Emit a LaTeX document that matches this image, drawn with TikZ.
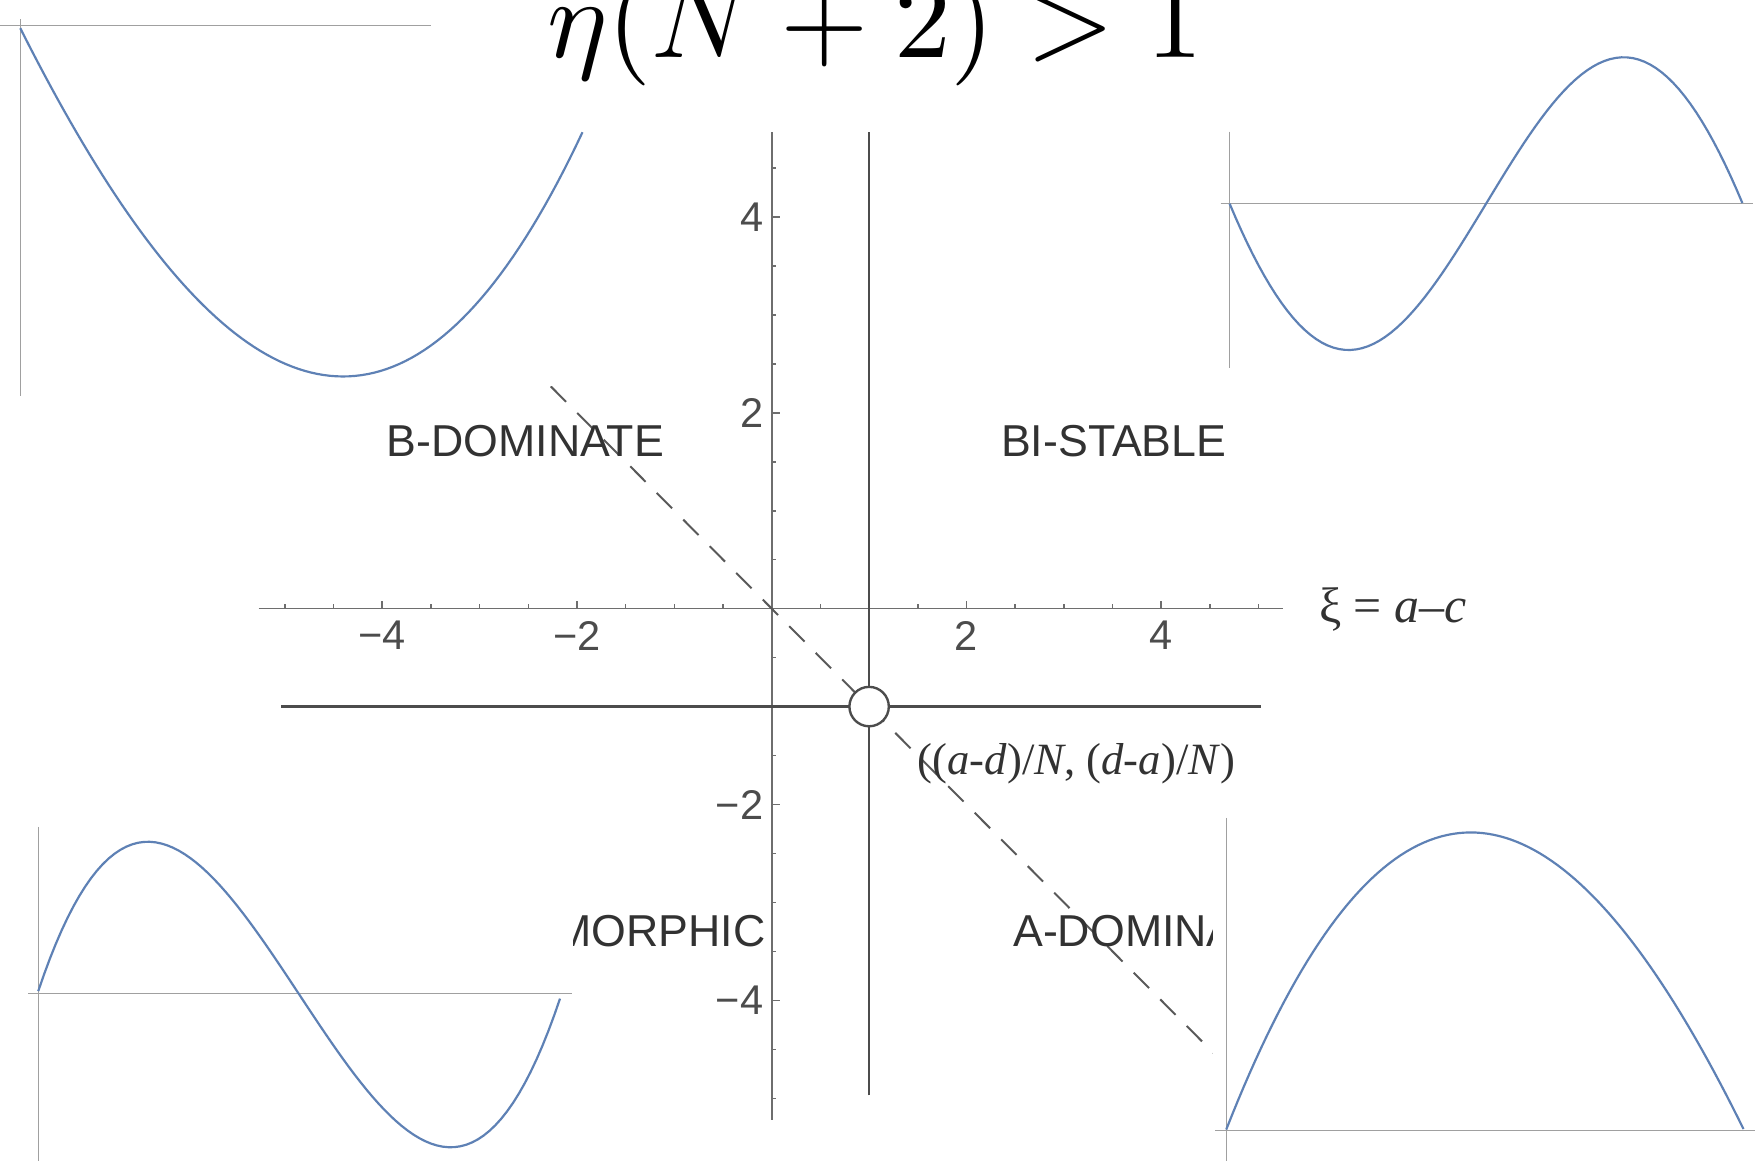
\documentclass[tikz,border=0pt]{standalone}
\usepackage{fontspec}
\newfontfamily\labelfont{Liberation Sans}
\newfontfamily\coordfont{Liberation Serif}
\definecolor{plotblue}{RGB}{94,129,181}
\definecolor{axisgray}{RGB}{110,110,110}
\definecolor{insetgray}{RGB}{160,160,160}
\definecolor{textgray}{RGB}{50,50,50}
\begin{document}
\begin{tikzpicture}[x=0.01cm,y=-0.01cm,
  axisline/.style={draw=axisgray,line width=.4pt},
  boundary/.style={draw=black!70,line width=.6pt},
  diagline/.style={draw=black!65,line width=.5pt,dash pattern=on 5.5pt off 4pt},
  insetaxis/.style={draw=insetgray,line width=.3pt},
  payoff/.style={draw=plotblue,line width=.55pt},
  region label/.style={font=\labelfont\fontsize{11.3}{13}\selectfont,text=textgray,inner sep=0pt},
  tick label/.style={font=\labelfont\fontsize{10.5}{12}\selectfont,text=black!70,inner sep=0pt},
  fixed point/.style={circle,draw=black!70,fill=white,line width=.6pt,minimum size=0.35cm,inner sep=0pt}]
  \useasboundingbox (0,0) rectangle (1568,1032);
  \clip (0,0) rectangle (1568,1032);
  \begin{scope}[shift={(686,541)},x=0.865cm,y=0.87cm]
    \draw[axisline] (-5.27,0) -- (5.25,0);
    \draw[axisline] (0,-5.22) -- (0,4.87);
    \foreach \t in {-5,-4.5,...,5} \draw[axisline] (\t,0) -- ++(0,0.045);
    \foreach \t in {-5,-4.5,...,4.5} \draw[axisline] (0,\t) -- ++(0.045,0);
    \foreach \t/\s [count=\i] in {-4/−4,-2/−2,2/2,4/4} {
      \draw[axisline] (\t,0) -- ++(0,0.08);
      \draw[axisline] (0,\t) -- ++(0.08,0);
      \node[tick label] (xlab\i) at (\t,-0.275) {\s};
      \node[tick label,anchor=east] (ylab\i) at (-0.08,\t) {\s};
    }
    \coordinate (vtop) at (1,4.87);
    \coordinate (vbot) at (1,-4.97);
    \coordinate (hleft) at (-5.04,-1);
    \coordinate (hright) at (5.02,-1);
    \coordinate (dstart) at (-2.27,2.27);
    \coordinate (dend) at (4.55,-4.55);
    \draw[boundary] (vbot) -- (vtop);
    \draw[boundary] (hleft) -- (hright);
    \draw[diagline] (dstart) -- (dend);
    \node[fixed point] (fp) at (1,-1) {};
  \end{scope}
  \node[region label] (bdom) at (467,392) {B-DOMINATE};
  \node[region label] (bistab) at (990,392) {BI-STABLE};
  \node[region label,anchor=east] (poly) at (681,828) {POLYMORPHIC};
  \node[region label,anchor=west] (adom) at (900,828) {A-DOMINATE};
  \node[anchor=base west,inner sep=0pt,font=\coordfont\fontsize{12.6}{15}\selectfont,text=textgray] (xilab) at (1172,553) {ξ = \textit{a–c}};
  \node[anchor=base west,inner sep=0pt,font=\coordfont\fontsize{11.3}{13}\selectfont,text=textgray] (fplab) at (815,688) {((\textit{a}-\textit{d})/\textit{N}, (\textit{d}-\textit{a})/\textit{N})};
  \fill[white] (0,0) rectangle (530,343);
  \draw[insetaxis] (0,23) -- (383,23);
  \draw[insetaxis] (18,17) -- (18,352);
  \draw[payoff] plot[domain=0:1,samples=90] ({18+500*\x},{25+993.6*\x-642.6*\x*\x-259*\x*\x*\x});
  \fill[white] (1080,30) rectangle (1568,330);
  \draw[insetaxis] (1085,181) -- (1558,181);
  \draw[insetaxis] (1093,117) -- (1093,327);
  \draw[payoff] plot[domain=0:1,samples=90] ({1093+456*\x},{181+65.5*sin(360*\x)+1361.7*\x*(\x-0.5)*(\x-1)});
  \fill[white] (0,728) rectangle (509,1032);
  \draw[insetaxis] (25,883) -- (508,883);
  \draw[insetaxis] (34,735) -- (34,1032);
  \draw[payoff] plot[domain=0:1,samples=90] ({34+464*\x},{881-2786*\x*(\x-0.5)*(\x-1)+6*\x});
  \fill[white] (1078,716) rectangle (1568,1032);
  \draw[insetaxis] (1080,1005) -- (1560,1005);
  \draw[insetaxis] (1090,727) -- (1090,1032);
  \draw[payoff] plot[domain=0:1,samples=90] ({1090+460*\x},{1004-1170*\x*(1-\x)*(1-0.2*\x)});
  \node[scale=2.87,inner sep=0pt,anchor=base] (title) at (778,51) {$\eta(N+2)>1$};
\end{tikzpicture}
\end{document}
